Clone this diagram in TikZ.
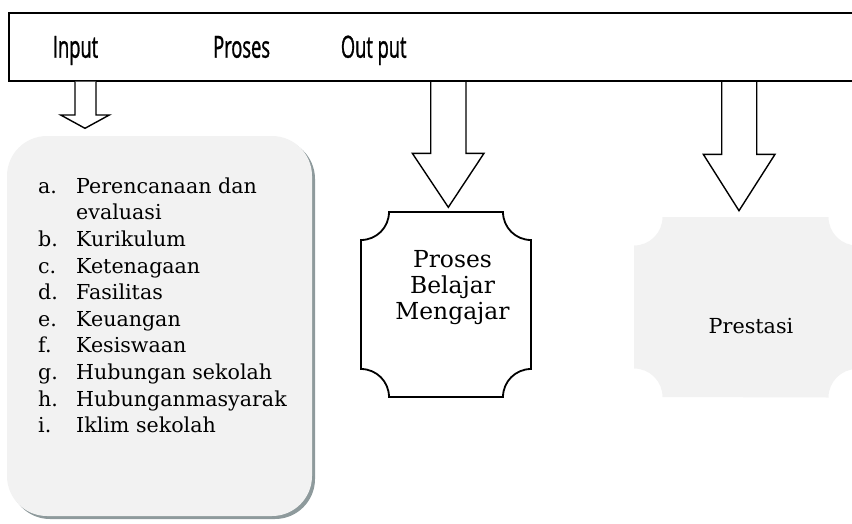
\documentclass[tikz,border=0pt]{standalone}
\usepackage{fontspec}
\setmainfont{DejaVu Serif}
\newfontfamily\barfont[FakeStretch=0.6,FakeBold=1]{Open Sans}
\newfontfamily\boxfont{DejaVu Serif}
\definecolor{boxgray}{HTML}{F2F2F2}
\definecolor{shadowgray}{HTML}{8E9A9C}
\begin{document}
\begin{tikzpicture}[x=1pt,y=-1pt,
  barlabel/.style={anchor=base west,inner sep=0pt,font=\barfont\fontsize{30.5}{36}\selectfont},
  blockarrow/.style={draw=black,line width=1.4pt,fill=white,line join=miter},
  plaque/.style={draw=black,line width=1.8pt,fill=white},
  softbox/.style={fill=boxgray,draw=none},
]
\useasboundingbox (0,0) rectangle (852,523);
\clip (0,0) rectangle (852,523);
% top bar
\draw[line width=1.5pt] (9,13) rectangle (880,81);
\node[barlabel] (lin) at (52.7,57.7) {Input};
\node[barlabel] (lpr) at (213,57.7) {Proses};
\node[barlabel] (lout) at (340.7,57.7) {Out put};

% left list box with shadow
\fill[shadowgray, rounded corners=40pt] (10,139) rectangle (315,519);
\fill[boxgray, rounded corners=40pt] (7,136) rectangle (312,516);
\node[anchor=north west,inner sep=0pt,font=\boxfont\fontsize{20.6}{26.6}\selectfont] (list) at (38,174.4) {%
\begin{tabular}{@{}p{38pt}@{}l@{}}
a. & Perencanaan dan\\
   & evaluasi\\
b. & Kurikulum\\
c. & Ketenagaan\\
d. & Fasilitas\\
e. & Keuangan\\
f. & Kesiswaan\\
g. & Hubungan sekolah\\
h. & Hubunganmasyarak\\
i. & Iklim sekolah
\end{tabular}};

% Proses belajar mengajar plaque
\draw[plaque] (389,212) -- (503,212)
  arc[start angle=180,end angle=90,radius=28] -- (531,369)
  arc[start angle=270,end angle=180,radius=28] -- (389,397)
  arc[start angle=0,end angle=-90,radius=28] -- (361,240)
  arc[start angle=90,end angle=0,radius=28] -- cycle;
\node[align=center,anchor=north,inner sep=0pt,font=\boxfont\fontsize{23.4}{26}\selectfont] (pbm) at (452.5,250) {Proses\\Belajar\\Mengajar};

% Prestasi plaque (soft)
\fill[boxgray] (662.5,217) -- (828.5,217)
  arc[start angle=180,end angle=90,radius=28.5] -- (857,369)
  arc[start angle=270,end angle=180,radius=28.5] -- (662.5,397)
  arc[start angle=0,end angle=-90,radius=28.5] -- (634,245.5)
  arc[start angle=90,end angle=0,radius=28.5] -- cycle;
\node[anchor=base,inner sep=0pt,font=\boxfont\fontsize{20.7}{26}\selectfont] (pres) at (751,333) {Prestasi};

% block arrows
\draw[blockarrow] (75,81.5) -- (75,115) -- (60.7,115) -- (85,128.3) -- (109.3,115) -- (96,115) -- (96,81.5);
\draw[blockarrow] (430.7,82) -- (430.7,153.3) -- (412.3,153.3) -- (448.3,207.3) -- (484,153.3) -- (466,153.3) -- (466,82);
\draw[blockarrow] (721.7,82) -- (721.7,154.3) -- (703.3,154.3) -- (739,210.7) -- (775,154.3) -- (756.7,154.3) -- (756.7,82);
\end{tikzpicture}
\end{document}
